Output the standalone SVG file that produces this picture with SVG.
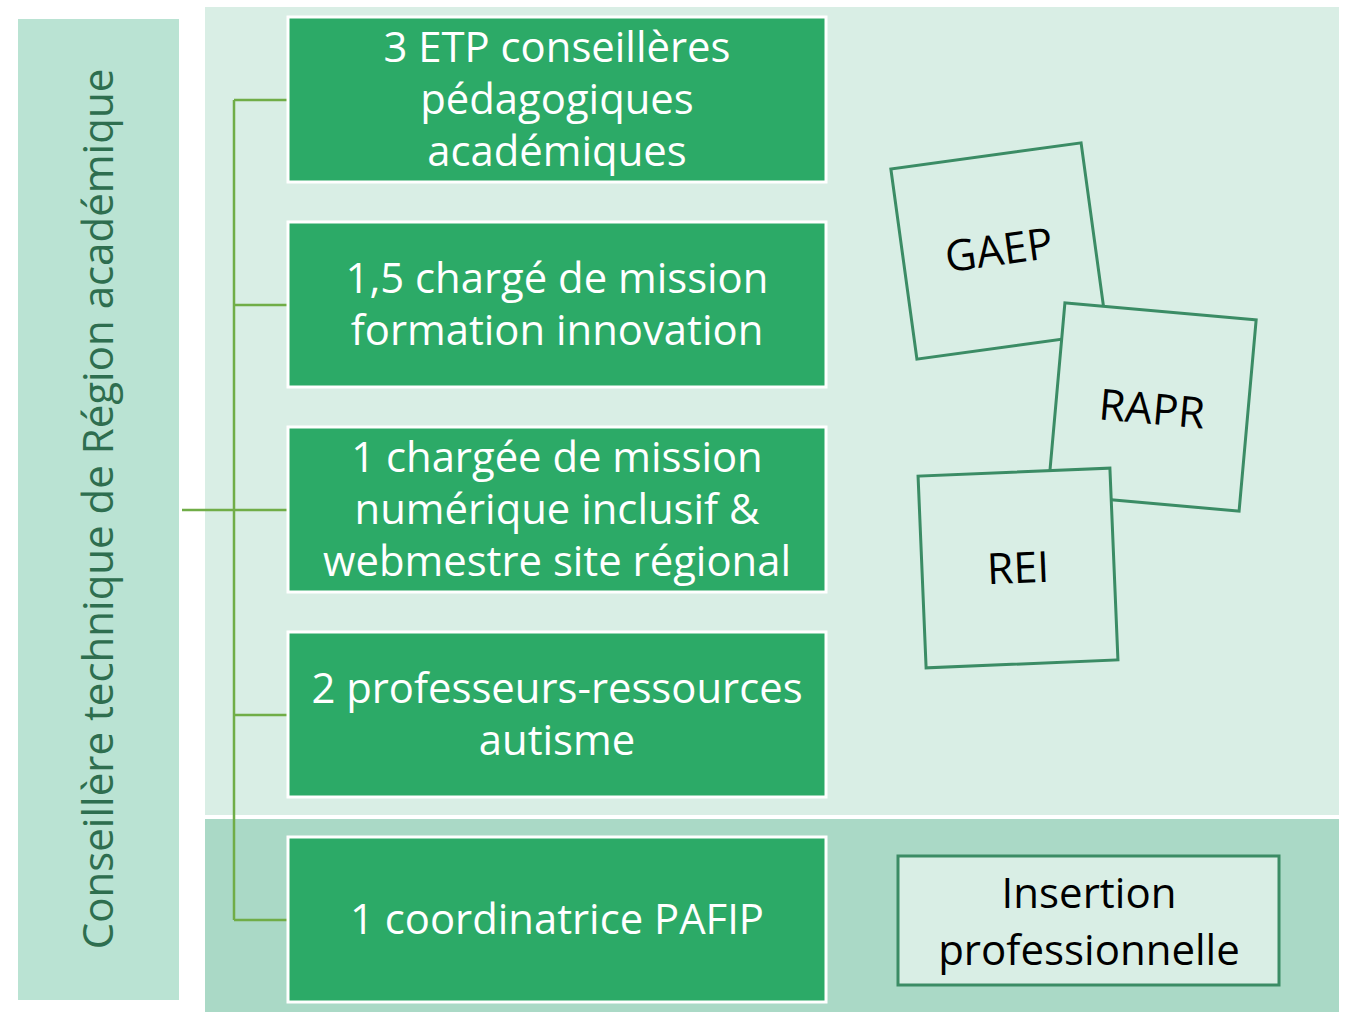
<svg xmlns="http://www.w3.org/2000/svg" width="1350" height="1012" viewBox="0 0 1350 1012">
<style>
.box{fill:#2CAA67;stroke:#FFFFFF;stroke-width:3}
.bt{font-family:"Open Sans","Liberation Sans",sans-serif;font-size:41.8px;fill:#FFFFFF;text-anchor:middle}
.sq{fill:#D9EEE5;stroke:#3B8C65;stroke-width:3}
.st{font-family:"Open Sans","Liberation Sans",sans-serif;font-size:43px;fill:#000000;text-anchor:middle}
.conn{fill:none;stroke:#70AD47;stroke-width:2.5}
</style>
<rect width="1350" height="1012" fill="#FFFFFF"/>
<g id="panels">
<rect x="205" y="7" width="1134" height="808" fill="#D9EEE5"/>
<rect x="205" y="819" width="1134" height="193" fill="#AAD9C6"/>
</g>
<g id="root">
<rect x="18" y="19" width="161" height="981" fill="#BAE3D3"/>
<text transform="translate(113,509) rotate(-90)" style="font-family:'Open Sans','Liberation Sans',sans-serif;font-size:42px;fill:#2E6E4F;text-anchor:middle">Conseillère technique de Région académique</text>
</g>
<g id="connectors">
<path class="conn" d="M182 510 H234 M234 100 V920 M234 100 H288 M234 305 H288 M234 510 H288 M234 715 H288 M234 920 H288"/>
</g>
<g id="n1">
<rect class="box" x="288" y="17" width="538" height="165"/>
<text class="bt" x="557" y="62">3 ETP conseillères</text>
<text class="bt" x="557" y="114">pédagogiques</text>
<text class="bt" x="557" y="166">académiques</text>
</g>
<g id="n2">
<rect class="box" x="288" y="222" width="538" height="165"/>
<text class="bt" x="557" y="293">1,5 chargé de mission</text>
<text class="bt" x="557" y="345">formation innovation</text>
</g>
<g id="n3">
<rect class="box" x="288" y="427" width="538" height="165"/>
<text class="bt" x="557" y="472">1 chargée de mission</text>
<text class="bt" x="557" y="524">numérique inclusif &amp;</text>
<text class="bt" x="557" y="576">webmestre site régional</text>
</g>
<g id="n4">
<rect class="box" x="288" y="632" width="538" height="165"/>
<text class="bt" x="557" y="703">2 professeurs-ressources</text>
<text class="bt" x="557" y="755">autisme</text>
</g>
<g id="n5">
<rect class="box" x="288" y="837" width="538" height="165"/>
<text class="bt" x="557" y="934">1 coordinatrice PAFIP</text>
</g>
<g id="gaep" transform="translate(999,251) rotate(-7.8)">
<rect class="sq" x="-96" y="-96" width="192" height="192"/>
<text class="st" x="0" y="14">GAEP</text>
</g>
<g id="rapr" transform="translate(1152,407) rotate(5.1)">
<rect class="sq" x="-96" y="-96" width="192" height="192"/>
<text class="st" x="0" y="17">RAPR</text>
</g>
<g id="rei" transform="translate(1018,568) rotate(-2.4)">
<rect class="sq" x="-96" y="-96" width="192" height="192"/>
<text class="st" x="0" y="15">REI</text>
</g>
<g id="insertion">
<rect class="sq" x="898" y="856" width="381" height="129"/>
<text class="st" x="1089" y="908" style="font-size:42px">Insertion</text>
<text class="st" x="1089" y="965" style="font-size:42px">professionnelle</text>
</g>
</svg>
